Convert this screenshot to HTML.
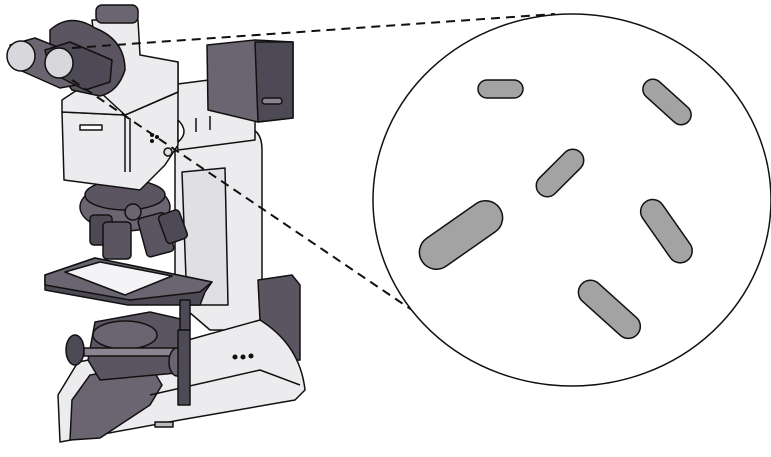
<!DOCTYPE html>
<html><head><style>html,body{margin:0;padding:0;background:#fff}svg{display:block}</style></head>
<body>
<svg width="771" height="457" viewBox="0 0 771 457" xmlns="http://www.w3.org/2000/svg" stroke="#111" stroke-width="1.5" stroke-linejoin="round">
<!-- back column -->
<path d="M175 140 L245 128 Q262 128 262 150 L262 330 L210 330 L175 300 Z" fill="#ececee"/>
<path d="M182 172 L225 168 L228 305 L187 305 Z" fill="#e0dfe3"/>
<!-- back dark box -->
<path d="M258 280 L292 275 L300 285 L300 360 L262 362 Z" fill="#5a5560"/>
<!-- base -->
<path d="M58 395 L78 362 L170 345 L260 320 Q300 345 305 390 L295 400 L180 420 L60 442 Z" fill="#ececee"/>
<path d="M70 440 L72 400 L90 375 L150 365 L162 385 L150 405 L100 438 Z" fill="#6a6570"/>
<path d="M150 395 L260 370 L300 385" fill="none"/>
<circle cx="235" cy="357" r="1.8" fill="#111"/><circle cx="243" cy="357" r="1.8" fill="#111"/><circle cx="251" cy="356" r="1.8" fill="#111"/>
<rect x="155" y="422" width="18" height="5" fill="#bbb"/>
<!-- focus mechanism -->
<path d="M95 322 L150 312 L185 320 L188 372 L100 380 L88 360 Z" fill="#5a5560"/>
<ellipse cx="125" cy="335" rx="32" ry="14" fill="#6a6570"/>
<ellipse cx="75" cy="350" rx="9" ry="15" fill="#4e4a55"/>
<rect x="84" y="348" width="95" height="8" fill="#8a8590"/>
<ellipse cx="177" cy="362" rx="8" ry="14" fill="#6a6570"/>
<rect x="178" y="330" width="12" height="75" fill="#4e4a55"/>
<!-- stage -->
<path d="M45 275 L95 258 L212 282 L205 292 L200 305 L128 305 L45 290 Z" fill="#4e4a55"/>
<path d="M45 275 L95 258 L212 282 L200 292 L130 300 L45 285 Z" fill="#6a6570"/>
<path d="M65 272 L100 262 L172 276 L125 295 Z" fill="#f4f4f6"/>
<rect x="180" y="300" width="10" height="30" fill="#4e4a55"/>
<!-- nosepiece & objectives -->
<ellipse cx="125" cy="207" rx="45" ry="24" fill="#6a6570"/>
<ellipse cx="125" cy="195" rx="40" ry="15" fill="#5a5560"/>
<rect x="90" y="215" width="22" height="30" rx="4" fill="#4e4a55"/>
<rect x="103" y="222" width="28" height="37" rx="4" fill="#5a5560"/>
<rect x="142" y="215" width="28" height="40" rx="4" transform="rotate(-15 155 235)" fill="#5a5560"/>
<rect x="162" y="212" width="22" height="30" rx="4" transform="rotate(-20 172 227)" fill="#4e4a55"/>
<circle cx="133" cy="212" r="8" fill="#6a6570"/>
<!-- arm -->
<path d="M170 85 L240 76 L255 80 L255 140 L178 150 Z" fill="#ececee"/>
<!-- lamp box -->
<path d="M207 45 L255 40 L293 42 L293 118 L258 122 L208 110 Z" fill="#6a6570"/>
<path d="M255 42 L293 42 L293 118 L258 122 Z" fill="#4e4a55"/>
<rect x="262" y="98" width="20" height="6" rx="3" fill="#8a8590"/>
<!-- lower head -->
<path d="M62 112 L125 115 L178 92 L178 145 L165 165 L140 190 L64 180 Z" fill="#ececee"/>
<path d="M125 115 L125 172 M130 118 L130 172" fill="none"/>
<rect x="80" y="125" width="22" height="5" fill="#fff"/>
<path d="M178 120 Q190 132 178 142 Z" fill="#fff"/>
<path d="M196 118 L196 132 M210 116 L210 130" fill="none"/>
<circle cx="168" cy="152" r="4" fill="#ddd"/>
<circle cx="152" cy="135" r="1.3" fill="#111"/><circle cx="157" cy="137" r="1.3" fill="#111"/><circle cx="152" cy="141" r="1.3" fill="#111"/>
<!-- upper head -->
<path d="M62 100 L62 112 L125 115 L178 92 L178 62 L130 55 Z" fill="#ececee"/>
<path d="M92 20 L138 20 L140 55 L178 62 L178 92 L125 115 L100 92 Z" fill="#ececee"/>
<rect x="96" y="5" width="42" height="18" rx="6" fill="#6a6570"/>
<!-- binocular head -->
<path d="M50 30 Q70 12 95 28 Q125 40 125 70 Q118 92 100 96 L72 90 L50 60 Z" fill="#5a5560"/>
<!-- eyepieces -->
<path d="M10 45 L35 38 L95 62 L92 82 L60 88 L15 68 Z" fill="#6a6570"/>
<path d="M45 50 L70 42 L112 60 L110 82 L85 90 L50 72 Z" fill="#4e4a55"/>
<ellipse cx="21" cy="56" rx="14" ry="15" fill="#d8d8dc"/>
<ellipse cx="59" cy="63" rx="14" ry="15" fill="#d8d8dc"/>
<!-- dashed lines -->
<path d="M72 48 L555 14 M72 80 L415 312" fill="none" stroke-width="2" stroke-dasharray="9 6"/>
<!-- magnified view -->
<ellipse cx="572" cy="200" rx="199" ry="186" fill="#fff"/>
<g fill="#a3a3a3" stroke-width="1.5">
<rect x="478" y="80" width="45" height="18" rx="9"/>
<rect x="638" y="92" width="58" height="20" rx="10" transform="rotate(42 667 102)"/>
<rect x="531" y="162" width="58" height="22" rx="11" transform="rotate(-45 560 173)"/>
<rect x="414" y="218" width="94" height="34" rx="17" transform="rotate(-35 461 235)"/>
<rect x="630" y="220" width="72" height="24" rx="12" transform="rotate(55 667 232)"/>
<rect x="572" y="297" width="75" height="24" rx="12" transform="rotate(42 609 309)"/>
</g>
</svg>
</body></html>
